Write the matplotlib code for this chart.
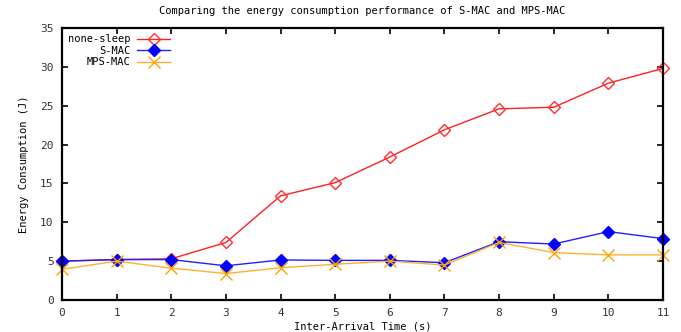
import matplotlib
matplotlib.use("Agg")
import matplotlib.pyplot as plt

# inter-arrival time (s)
x = [0, 1, 2, 3, 4, 5, 6, 7, 8, 9, 10, 11]
none_sleep = [5.0, 5.2, 5.3, 7.4, 13.4, 15.1, 18.4, 21.9, 24.6, 24.8, 27.9, 29.8]
s_mac = [5.0, 5.2, 5.2, 4.4, 5.15, 5.1, 5.1, 4.8, 7.5, 7.2, 8.8, 7.9]
mps_mac = [3.95, 5.0, 4.1, 3.4, 4.15, 4.6, 5.0, 4.5, 7.4, 6.1, 5.8, 5.8]

plt.rcParams['font.family'] = 'DejaVu Sans Mono'

fig = plt.figure(figsize=(6.81, 3.32), dpi=100)
ax = fig.add_axes([0.091, 0.0964, 0.8826, 0.8193])

ax.plot(x, none_sleep, color='#ff2020', lw=1, marker='D', ms=6.5,
        mfc='none', mec='#ff3030', mew=1, label='none-sleep', clip_on=False)
ax.plot(x, s_mac, color='#2020ff', lw=1, marker='D', ms=6.5,
        mfc='#0000ff', mec='#0000ff', label='S-MAC', clip_on=False)
ax.plot(x, mps_mac, color='#ffb030', lw=1, marker='x', ms=9,
        mew=1, mec='#ffa500', label='MPS-MAC', clip_on=False)

ax.set_xlim(0, 11)
ax.set_ylim(0, 35)
ax.set_xticks(x)
ax.set_yticks(range(0, 36, 5))
ax.tick_params(direction='in', top=True, right=True, length=4, width=1.2,
               labelsize=8, labelcolor='#333333', pad=6)
for s in ax.spines.values():
    s.set_linewidth(1.6)
    s.set_zorder(3)

ax.set_title('Comparing the energy consumption performance of S-MAC and MPS-MAC',
             fontsize=7.5, pad=10)
ax.set_xlabel('Inter-Arrival Time (s)', fontsize=7.5, labelpad=2)
ax.set_ylabel('Energy Consumption (J)', fontsize=7.5, labelpad=8)

ax.legend(loc='upper left', markerfirst=False, frameon=False, fontsize=7.5,
          handlelength=3.2, handletextpad=0.6, labelspacing=0.15,
          borderaxespad=0.2, alignment='right')

fig.savefig('out.png', dpi=100)
